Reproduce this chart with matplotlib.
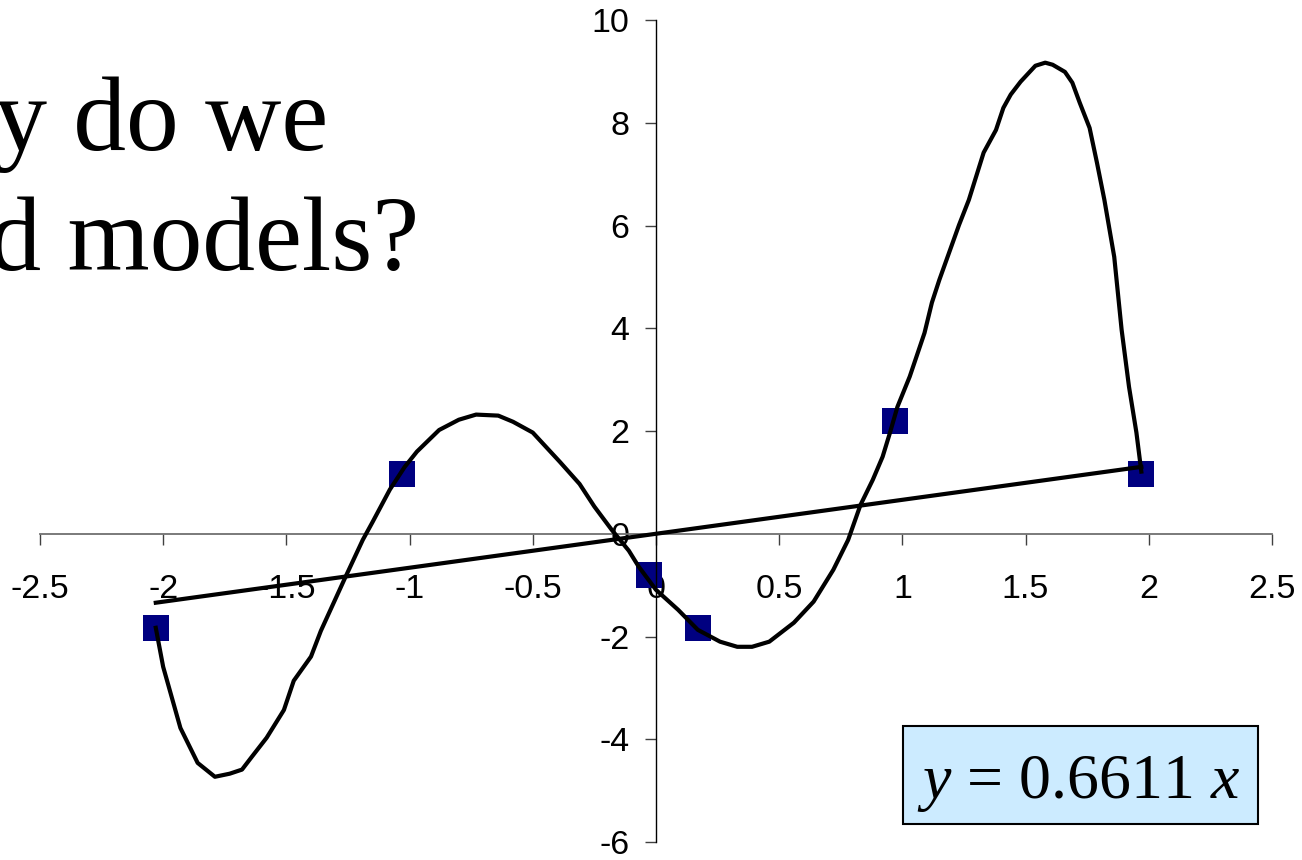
import matplotlib
matplotlib.use("Agg")
import matplotlib.pyplot as plt
from matplotlib.patches import Rectangle
from matplotlib.ticker import FormatStrFormatter

# Sample points
data_x = [-2.03, -1.03, -0.03, 0.17, 0.97, 1.97]
data_y = [-1.83, 1.17, -0.80, -1.83, 2.20, 1.17]

# High-order polynomial through the samples
curve_x = [-2.03, -2.00, -1.93, -1.86, -1.79, -1.73, -1.68, -1.64, -1.58, -1.51,
           -1.47, -1.40, -1.36, -1.26, -1.19, -1.15, -1.08, -1.02, -0.97, -0.88,
           -0.80, -0.73, -0.64, -0.58, -0.50, -0.39, -0.31, -0.25, -0.18, -0.11,
           -0.07, 0.00, 0.09, 0.17, 0.26, 0.33, 0.39, 0.46, 0.56, 0.64,
           0.72, 0.78, 0.83, 0.88, 0.92, 0.95, 0.98, 1.03, 1.09, 1.12,
           1.15, 1.23, 1.27, 1.33, 1.38, 1.41, 1.44, 1.48, 1.54, 1.58,
           1.61, 1.66, 1.69, 1.72, 1.76, 1.79, 1.82, 1.86, 1.89, 1.92,
           1.95, 1.97]
curve_y = [-1.83, -2.59, -3.78, -4.46, -4.73, -4.67, -4.59, -4.34, -3.97, -3.43,
           -2.86, -2.39, -1.89, -0.84, -0.12, 0.23, 0.86, 1.30, 1.60, 2.02,
           2.22, 2.32, 2.30, 2.18, 1.97, 1.40, 0.97, 0.53, 0.08, -0.33,
           -0.64, -1.09, -1.48, -1.87, -2.10, -2.20, -2.20, -2.10, -1.73, -1.32,
           -0.70, -0.12, 0.56, 1.05, 1.50, 1.97, 2.47, 3.06, 3.91, 4.50,
           4.94, 6.01, 6.50, 7.42, 7.86, 8.29, 8.55, 8.80, 9.11, 9.17,
           9.13, 8.99, 8.78, 8.39, 7.90, 7.22, 6.50, 5.39, 3.97, 2.86,
           1.97, 1.21]

# Linear fit through the origin
slope = 0.6611
fit_x = [min(data_x), max(data_x)]
fit_y = [slope * v for v in fit_x]

x_ticks = [-2.5, -2, -1.5, -1, -0.5, 0, 0.5, 1, 1.5, 2, 2.5]
y_ticks = [-6, -4, -2, 0, 2, 4, 6, 8, 10]

plt.rcParams["font.family"] = "Liberation Sans"
plt.rcParams["axes.unicode_minus"] = False
plt.rcParams["mathtext.fontset"] = "custom"
plt.rcParams["mathtext.rm"] = "Liberation Serif"
plt.rcParams["mathtext.it"] = "Liberation Serif:italic"

fig = plt.figure(figsize=(13.02, 8.6), dpi=100)
ax = fig.add_axes([0.0307, 0.0209, 0.9462, 0.9558])
ax.patch.set_visible(False)

ax.plot(data_x, data_y, linestyle="none", marker="s", markersize=18.7,
        markeredgewidth=0, color="#000080", zorder=2)
ax.plot(curve_x, curve_y, color="black", linewidth=3, zorder=3, clip_on=False)
ax.plot(fit_x, fit_y, color="black", linewidth=3, zorder=3, clip_on=False)

ax.set_xlim(-2.5, 2.5)
ax.set_ylim(-6, 10)
ax.set_xticks(x_ticks)
ax.set_yticks(y_ticks)
ax.xaxis.set_major_formatter(FormatStrFormatter("%g"))
ax.yaxis.set_major_formatter(FormatStrFormatter("%g"))

for side in ["top", "right"]:
    ax.spines[side].set_visible(False)
ax.spines["left"].set_position(("data", 0))
ax.spines["bottom"].set_position(("data", 0))
ax.spines["left"].set_color("black")
ax.spines["left"].set_linewidth(1)
ax.spines["bottom"].set_color("#707070")
ax.spines["bottom"].set_linewidth(1.3)

ax.tick_params(axis="x", length=8, width=1, color="#404040", pad=21, labelsize=24.5)
ax.tick_params(axis="y", length=8, width=1, color="#404040", pad=11, labelsize=24.5)

# Slide heading, partly running off the left edge
fig.text(-158 / 1302, 1 - 150 / 860, "Why do we", fontsize=76,
         family="Liberation Serif", ha="left", va="baseline")
fig.text(-158 / 1302, 1 - 270 / 860, "need models?", fontsize=76,
         family="Liberation Serif", ha="left", va="baseline")

# Equation box
box = Rectangle((903 / 1302, 1 - 824 / 860), (1258 - 903) / 1302, (824 - 726) / 860,
                transform=fig.transFigure, facecolor="#CCEBFF", edgecolor="black",
                linewidth=1.5)
fig.add_artist(box)
fig.text(1079 / 1302, 1 - 798 / 860, r"$y$ = %.4f $x$" % slope, fontsize=46,
         family="Liberation Serif", ha="center", va="baseline")

fig.savefig("out.png", dpi=100)
